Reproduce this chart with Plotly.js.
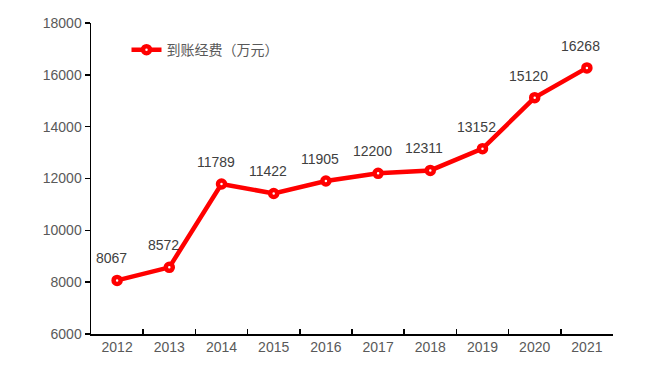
<!DOCTYPE html>
<html><head><meta charset="utf-8">
<script src="https://cdn.plot.ly/plotly-3.0.1.min.js"></script>
<style>html,body{margin:0;padding:0;background:#fff}</style>
</head><body><div id="chart" style="width:666px;height:385px"></div>
<script>
const years = ['2012','2013','2014','2015','2016','2017','2018','2019','2020','2021'];
const funding = [8067, 8572, 11789, 11422, 11905, 12200, 12311, 13152, 15120, 16268];
const seriesName = '到账经费（万元）';
const yTicks = [6000, 8000, 10000, 12000, 14000, 16000, 18000];

const font = '"Liberation Sans", Arial, "Noto Sans CJK SC", sans-serif';
// category axis: annotation x given as category index
const annotations = years.map((yr, i) => ({
  x: i, y: funding[i], xref: 'x', yref: 'y', text: String(funding[i]),
  showarrow: false, xanchor: 'center', yanchor: 'middle', xshift: -6, yshift: 22,
  font: {family: font, size: 14, color: '#404040'}
}));
Plotly.newPlot('chart', [{
  x: years, y: funding, type: 'scatter', mode: 'lines+markers',
  name: seriesName,
  line: {color: '#ff0000', width: 4.5},
  marker: {symbol: 'circle', size: 7, color: '#ffffff', line: {color: '#ff0000', width: 4.5}},
  cliponaxis: false
}], {
  width: 666, height: 385,
  margin: {l: 91, r: 53, t: 23, b: 51},
  paper_bgcolor: '#fff', plot_bgcolor: '#fff',
  showlegend: true,
  annotations: annotations,
  legend: {x: 0.068, y: 0.913, xanchor: 'left', yanchor: 'middle', bgcolor: 'rgba(0,0,0,0)',
    font: {family: font, size: 14, color: '#595959'}},
  xaxis: {type: 'category', range: [-0.5, 9.5], showline: true, linecolor: '#000', linewidth: 1.5,
    ticks: 'inside', tickson: 'boundaries', ticklen: 5, tickcolor: '#000', tickwidth: 1.5,
    showgrid: false, zeroline: false, fixedrange: true,
    tickfont: {family: font, size: 14, color: '#595959'}},
  yaxis: {range: [6000, 18000], tickvals: yTicks, tickformat: 'd', showline: true, linecolor: '#000', linewidth: 1.5,
    ticks: 'outside', ticklen: 5, tickcolor: '#000', tickwidth: 1.5,
    showgrid: false, zeroline: false,
    tickfont: {family: font, size: 14, color: '#595959'}}
}, {displayModeBar: false, staticPlot: true});
</script></body></html>
